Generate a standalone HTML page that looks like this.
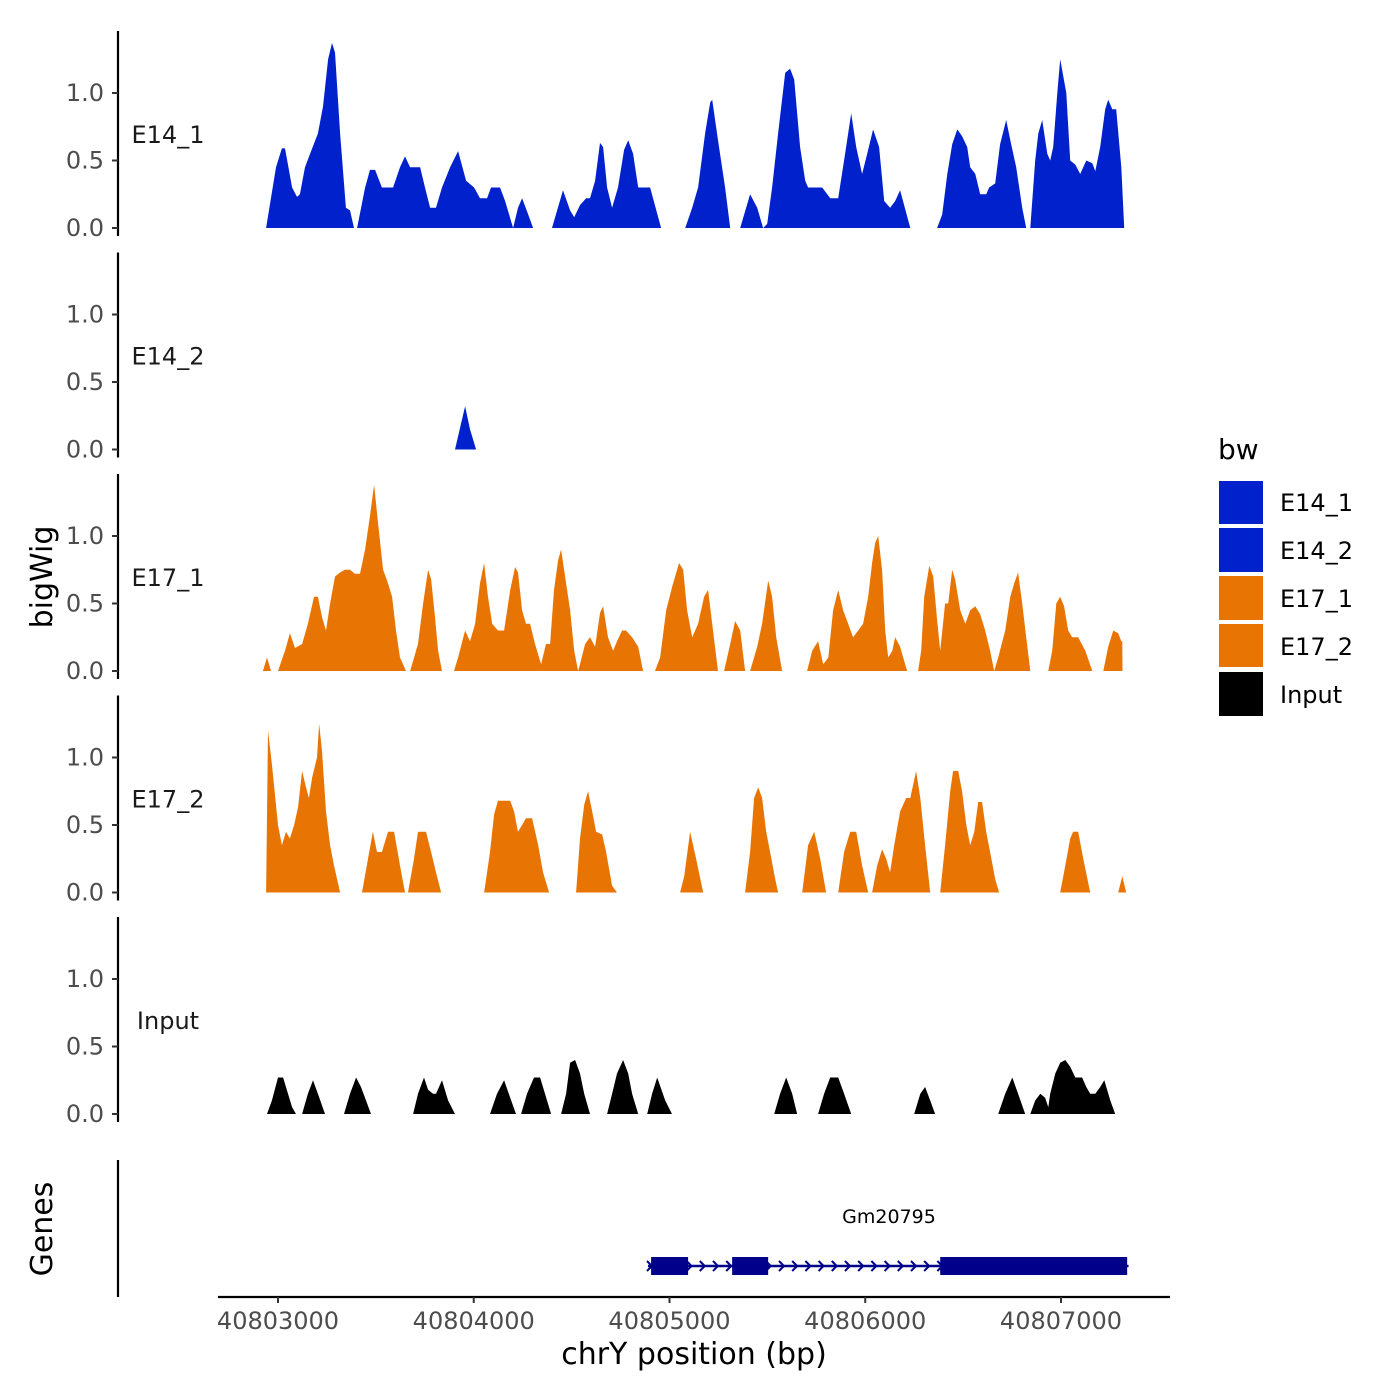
<!DOCTYPE html>
<html><head><meta charset="utf-8"><style>
html,body{margin:0;padding:0;background:#fff;}
svg{display:block;font-family:"DejaVu Sans","Liberation Sans",sans-serif;}
</style></head><body>
<svg id="chart" width="1400" height="1400" viewBox="0 0 1400 1400" xmlns="http://www.w3.org/2000/svg"></svg>
<script>
// x positions are bp offsets from 40803000
const xTicks = [40803000, 40804000, 40805000, 40806000, 40807000];
const yTicks = [0, 0.5, 1.0];
const trackNames = ["E14_1", "E14_2", "E17_1", "E17_2", "Input"];
const trackColors = ["#0021cc", "#0021cc", "#e87503", "#e87503", "#000000"];
const e14_1_pos = [-61,-10,20,36,72,97,112,138,164,204,230,256,276,291,317,347,368,388,404,445,470,496,531,588,623,649,675,726,751,777,807,838,879,920,961,1002,1032,1068,1088,1134,1160,1201,1226,1247,1278,1303,1400,1456,1492,1513,1543,1574,1594,1620,1645,1661,1681,1707,1737,1768,1789,1814,1840,1901,1957,2080,2116,2146,2182,2208,2218,2248,2284,2310,2361,2412,2448,2478,2499,2524,2555,2591,2616,2637,2667,2693,2708,2780,2821,2862,2897,2928,2954,2984,3010,3040,3071,3097,3127,3153,3178,3230,3367,3393,3419,3444,3470,3495,3521,3536,3562,3587,3618,3633,3664,3689,3720,3741,3771,3802,3822,3843,3868,3884,3904,3930,3945,3960,3981,3996,4027,4047,4073,4098,4129,4160,4175,4200,4226,4241,4262,4282,4308,4323];
const e14_1_val = [0,0.45,0.59,0.59,0.3,0.23,0.25,0.45,0.55,0.7,0.9,1.25,1.37,1.3,0.7,0.15,0.13,0,0,0.3,0.43,0.43,0.3,0.3,0.45,0.53,0.45,0.45,0.3,0.15,0.15,0.3,0.45,0.57,0.35,0.3,0.22,0.22,0.3,0.3,0.2,0,0.15,0.22,0.1,0,0,0.28,0.13,0.08,0.17,0.22,0.22,0.35,0.63,0.6,0.3,0.15,0.3,0.58,0.65,0.55,0.3,0.3,0,0,0.15,0.3,0.7,0.93,0.95,0.65,0.3,0,0,0.25,0.15,0,0.03,0.3,0.7,1.15,1.18,1.1,0.6,0.35,0.3,0.3,0.22,0.22,0.55,0.85,0.6,0.4,0.55,0.73,0.6,0.2,0.15,0.2,0.28,0,0,0.1,0.4,0.62,0.73,0.68,0.6,0.45,0.4,0.25,0.25,0.3,0.33,0.62,0.8,0.65,0.45,0.15,0,0,0.5,0.7,0.8,0.55,0.5,0.6,1.0,1.25,1.0,0.5,0.47,0.4,0.5,0.48,0.42,0.6,0.88,0.95,0.88,0.88,0.45,0];
const e14_2_pos = [904,956,981,1012];
const e14_2_val = [0,0.32,0.15,0];
const e17_1_pos = [-77,-56,-36,0,36,61,87,123,153,184,204,225,245,266,291,317,342,368,393,419,445,470,491,511,537,562,583,603,623,654,675,715,741,767,782,802,818,838,899,920,956,981,1007,1032,1053,1073,1094,1124,1155,1186,1211,1226,1247,1267,1288,1313,1344,1369,1390,1410,1431,1446,1472,1492,1513,1533,1543,1569,1594,1620,1645,1661,1686,1712,1732,1758,1778,1809,1840,1865,1926,1952,1983,2013,2049,2070,2090,2116,2146,2177,2197,2218,2248,2279,2310,2335,2361,2386,2412,2448,2473,2504,2524,2545,2575,2703,2729,2759,2785,2811,2836,2862,2887,2913,2938,2964,2989,3015,3035,3051,3066,3086,3102,3117,3138,3153,3178,3214,3270,3286,3301,3327,3347,3367,3383,3408,3424,3444,3459,3485,3511,3536,3562,3587,3613,3638,3659,3679,3715,3741,3761,3781,3802,3822,3843,3935,3955,3976,3996,4016,4037,4057,4088,4124,4160,4216,4241,4267,4292,4308,4313,4314];
const e17_1_val = [0,0.1,0,0,0.15,0.28,0.17,0.2,0.35,0.55,0.55,0.4,0.3,0.5,0.7,0.73,0.75,0.75,0.72,0.72,0.9,1.15,1.38,1.1,0.75,0.65,0.55,0.3,0.1,0,0,0.2,0.5,0.75,0.68,0.4,0.15,0,0,0.1,0.3,0.22,0.35,0.65,0.8,0.55,0.35,0.3,0.3,0.6,0.77,0.73,0.45,0.35,0.35,0.2,0.05,0.2,0.2,0.6,0.82,0.9,0.65,0.45,0.15,0,0.05,0.2,0.25,0.18,0.43,0.48,0.25,0.15,0.22,0.3,0.3,0.25,0.18,0,0,0.1,0.45,0.62,0.8,0.75,0.45,0.25,0.35,0.55,0.6,0.35,0,0,0.2,0.37,0.3,0,0,0.18,0.35,0.67,0.55,0.25,0,0,0.15,0.22,0.05,0.1,0.45,0.6,0.45,0.35,0.25,0.3,0.35,0.55,0.8,0.95,1.0,0.75,0.3,0.1,0.15,0.25,0.18,0,0,0.15,0.55,0.78,0.7,0.38,0.15,0.5,0.5,0.75,0.68,0.45,0.35,0.45,0.48,0.42,0.3,0.15,0,0.1,0.3,0.55,0.65,0.73,0.5,0.25,0,0,0.15,0.5,0.55,0.48,0.3,0.25,0.25,0.15,0,0,0.18,0.3,0.28,0.22,0.22,0];
const e17_2_pos = [-61,-51,-31,0,20,41,61,82,102,123,143,158,174,199,210,225,245,266,286,317,429,460,485,506,531,562,593,623,649,664,695,715,756,782,807,833,1053,1063,1083,1104,1124,1186,1206,1226,1247,1267,1298,1329,1354,1385,1523,1543,1564,1584,1605,1625,1656,1676,1707,1732,2054,2075,2105,2136,2172,2386,2412,2432,2453,2473,2494,2514,2540,2555,2678,2708,2739,2770,2800,2862,2892,2923,2954,2984,3015,3035,3061,3086,3107,3127,3148,3178,3209,3230,3260,3281,3306,3332,3383,3408,3434,3449,3475,3495,3516,3536,3557,3577,3597,3618,3638,3664,3684,3996,4022,4047,4062,4088,4114,4149,4292,4313,4333];
const e17_2_val = [0,1.2,0.95,0.5,0.35,0.45,0.4,0.5,0.63,0.9,0.78,0.7,0.85,1.0,1.25,1.05,0.6,0.35,0.2,0,0,0.25,0.45,0.3,0.3,0.45,0.45,0.2,0,0,0.25,0.45,0.45,0.3,0.15,0,0,0.1,0.3,0.58,0.68,0.68,0.6,0.45,0.5,0.55,0.55,0.35,0.15,0,0,0.4,0.65,0.75,0.6,0.45,0.43,0.3,0.05,0,0,0.12,0.45,0.25,0,0,0.3,0.7,0.78,0.7,0.45,0.3,0.1,0,0,0.35,0.45,0.25,0,0,0.3,0.45,0.45,0.2,0,0,0.2,0.32,0.25,0.15,0.35,0.6,0.7,0.7,0.9,0.7,0.35,0,0,0.35,0.75,0.9,0.9,0.75,0.5,0.35,0.45,0.67,0.67,0.45,0.3,0.1,0,0,0.2,0.4,0.45,0.45,0.25,0,0,0.12,0];
const input_pos = [-56,-31,0,26,51,72,92,123,153,179,204,240,337,368,399,424,475,690,715,746,767,792,807,838,869,904,1083,1119,1155,1186,1216,1242,1272,1308,1339,1364,1395,1446,1472,1492,1518,1543,1564,1594,1681,1707,1732,1763,1789,1809,1840,1886,1911,1937,1978,2013,2535,2565,2596,2627,2652,2759,2790,2821,2862,2892,2928,3250,3281,3306,3332,3357,3679,3715,3751,3781,3817,3843,3868,3894,3919,3935,3945,3971,3996,4022,4047,4073,4108,4129,4149,4175,4200,4221,4252,4277];
const input_val = [0,0.1,0.27,0.27,0.15,0.05,0,0,0.15,0.25,0.15,0,0,0.15,0.27,0.2,0,0,0.15,0.27,0.18,0.15,0.15,0.25,0.1,0,0,0.15,0.25,0.12,0,0,0.15,0.27,0.27,0.15,0,0,0.15,0.38,0.4,0.3,0.15,0,0,0.15,0.3,0.4,0.3,0.15,0,0,0.15,0.27,0.1,0,0,0.15,0.27,0.15,0,0,0.15,0.27,0.27,0.15,0,0,0.15,0.2,0.1,0,0,0.15,0.27,0.15,0,0,0.1,0.15,0.12,0.05,0.15,0.3,0.38,0.4,0.35,0.27,0.27,0.2,0.15,0.15,0.2,0.25,0.1,0];
const geneStart = 1890, geneEnd = 4345;
const exonStarts = [1906, 2320, 3383];
const exonEnds = [2095, 2504, 4338];
const geneName = "Gm20795";

const NS = "http://www.w3.org/2000/svg";
const svg = document.getElementById("chart");
function mk(tag, attrs, parent){const e=document.createElementNS(NS,tag);for(const k in attrs)e.setAttribute(k,attrs[k]);(parent||svg).appendChild(e);return e;}
const X0 = 40803000;
function xs(bp){return 278 + (bp - 0) * 0.19575;}
function xsAbs(bp){return 278 + (bp - X0) * 0.19575;}
const zeroY = [228, 449.5, 671, 892.5, 1114];
function ys(i, v){return zeroY[i] - v * 135;}

const posArr = [e14_1_pos, e14_2_pos, e17_1_pos, e17_2_pos, input_pos];
const valArr = [e14_1_val, e14_2_val, e17_1_val, e17_2_val, input_val];

for (let i = 0; i < 5; i++) {
  const g = mk("g", {});
  
  
  const top = zeroY[i] - 197, bot = zeroY[i] + 8;
  const ax = mk("line", {x1:118,x2:118,y1:top,y2:bot,stroke:"#000","stroke-width":2.2}, g);
  
  
  yTicks.forEach(t => {
    const y = ys(i, t);
    mk("line", {x1:112,x2:118,y1:y,y2:y,stroke:"#333","stroke-width":2}, g);
    const tl = mk("text", {x:104,y:y+8,"text-anchor":"end","font-size":24,fill:"#4d4d4d"}, g);
    tl.textContent = t.toFixed(1);
    
    
  });
  const lbl = mk("text", {x:168, y: zeroY[i] - 85, "text-anchor":"middle","font-size":24,fill:"#1a1a1a"}, g);
  lbl.textContent = trackNames[i];
  
  
  const P = posArr[i], V = valArr[i];
  let d = "M" + xs(P[0]).toFixed(1) + "," + zeroY[i];
  for (let k = 0; k < P.length; k++) d += "L" + xs(P[k]).toFixed(1) + "," + ys(i, V[k]).toFixed(1);
  d += "L" + xs(P[P.length-1]).toFixed(1) + "," + zeroY[i] + "Z";
  const area = mk("path", {d:d, fill:trackColors[i], stroke:"none"}, g);
  
  
}

const gp = mk("g", {});


const gax = mk("line", {x1:118,x2:118,y1:1160,y2:1297,stroke:"#000","stroke-width":2.2}, gp);


const gy = 1266;
const gl = mk("line", {x1:xs(geneStart),x2:xs(geneEnd),y1:gy,y2:gy,stroke:"#00008b","stroke-width":2.5}, gp);


for (let a = xs(geneStart) + 2; a < xs(geneEnd) - 4; a += 13.2) {
  const ch = mk("path", {d:`M${a-3},${gy-5}L${a+2},${gy}L${a-3},${gy+5}`, fill:"none", stroke:"#00008b","stroke-width":2}, gp);
  
  
}
exonStarts.forEach((s, k) => {
  const r = mk("rect", {x:xs(s), y:gy-9, width:xs(exonEnds[k])-xs(s), height:18, fill:"#00008b"}, gp);
  
  
});
const gn = mk("text", {x:889, y:1223, "text-anchor":"middle","font-size":19,fill:"#000"}, gp);
gn.textContent = geneName;



const xa = mk("g", {});


mk("line", {x1:218,x2:1170,y1:1297,y2:1297,stroke:"#000","stroke-width":2.2}, xa);
xTicks.forEach(t => {
  const x = xsAbs(t);
  mk("line", {x1:x,x2:x,y1:1297,y2:1303,stroke:"#333","stroke-width":2}, xa);
  const tl = mk("text", {x:x, y:1329, "text-anchor":"middle","font-size":24,fill:"#4d4d4d"}, xa);
  tl.textContent = String(t);
  
  
});
</script>
<svg style="position:absolute;left:0;top:0" width="1400" height="1400">
  <text x="694" y="1364" text-anchor="middle" font-size="30" font-family="DejaVu Sans, Liberation Sans, sans-serif" fill="#000">chrY position (bp)</text>
  <text x="52" y="577" text-anchor="middle" font-size="30" font-family="DejaVu Sans, Liberation Sans, sans-serif" transform="rotate(-90 52 577)" fill="#000">bigWig</text>
  <text x="52" y="1229" text-anchor="middle" font-size="30" font-family="DejaVu Sans, Liberation Sans, sans-serif" transform="rotate(-90 52 1229)" fill="#000">Genes</text>
  <g font-family="DejaVu Sans, Liberation Sans, sans-serif">
    <text x="1218" y="459" font-size="28" fill="#000">bw</text>
    <rect x="1219" y="481" width="44" height="43" fill="#0021cc"/>
    <text x="1280" y="511" font-size="24">E14_1</text>
    <rect x="1219" y="528" width="44" height="44" fill="#0021cc"/>
    <text x="1280" y="559" font-size="24">E14_2</text>
    <rect x="1219" y="576" width="44" height="44" fill="#e87503"/>
    <text x="1280" y="607" font-size="24">E17_1</text>
    <rect x="1219" y="624" width="44" height="43" fill="#e87503"/>
    <text x="1280" y="655" font-size="24">E17_2</text>
    <rect x="1219" y="672" width="44" height="44" fill="#000"/>
    <text x="1280" y="703" font-size="24">Input</text>
  </g>
</svg>
</body></html>
